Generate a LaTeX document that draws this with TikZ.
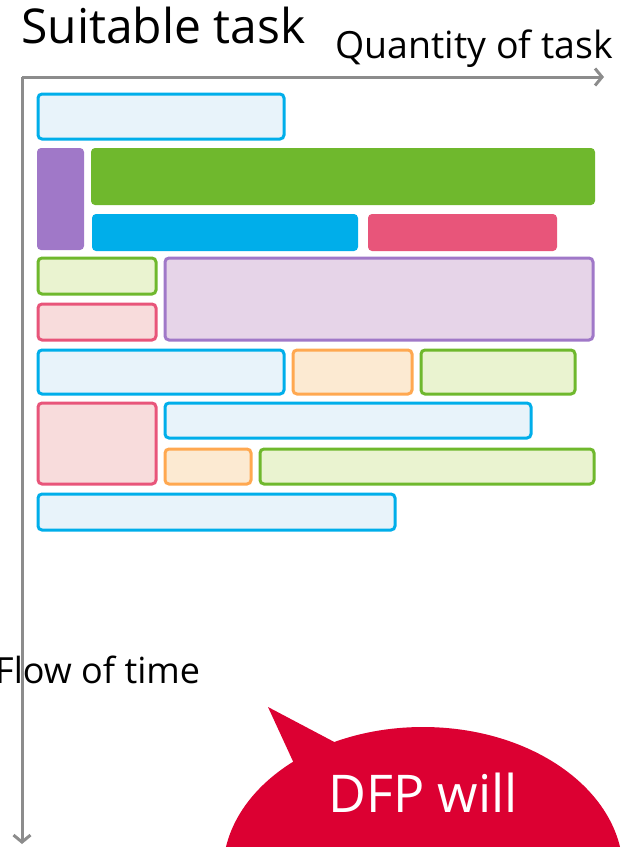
\documentclass[tikz,border=0pt]{standalone}
\usepackage{fontspec}
\setmainfont{Open Sans}
\usetikzlibrary{arrows.meta}
\definecolor{AxisGray}{HTML}{8C8C8C}
\definecolor{Sky}{HTML}{00AEEA}
\definecolor{PaleSky}{HTML}{E8F3FA}
\definecolor{Leaf}{HTML}{6FB82D}
\definecolor{PaleLeaf}{HTML}{EAF3D0}
\definecolor{Rose}{HTML}{E8557A}
\definecolor{PaleRose}{HTML}{F8DCDC}
\definecolor{Lilac}{HTML}{A078C8}
\definecolor{PaleLilac}{HTML}{E6D4E8}
\definecolor{Peach}{HTML}{FFA850}
\definecolor{PalePeach}{HTML}{FCEAD2}
\definecolor{Crimson}{HTML}{DC0032}
\tikzset{
  skybox/.style={draw=Sky,fill=PaleSky,line width=3pt,rounded corners=4pt},
  leafbox/.style={draw=Leaf,fill=PaleLeaf,line width=3pt,rounded corners=4pt},
  rosebox/.style={draw=Rose,fill=PaleRose,line width=3pt,rounded corners=4pt},
  lilacbox/.style={draw=Lilac,fill=PaleLilac,line width=3pt,rounded corners=4pt},
  peachbox/.style={draw=Peach,fill=PalePeach,line width=3pt,rounded corners=4pt},
  solidbox/.style={fill=#1,rounded corners=4pt},
  axis/.style={-{Straight Barb[length=7pt,width=17pt]},line width=3pt,draw=AxisGray},
  label/.style={inner sep=0pt,text=black}
}

\begin{document}
\begin{tikzpicture}[x=1pt,y=-1pt]
  \useasboundingbox (0,0) rectangle (627,847);
  \clip (0,0) rectangle (627,847);
  % axes
  \coordinate (origin) at (22,77);
  \coordinate (qend) at (604,77);
  \coordinate (tend) at (22,844);
  \draw[axis] (origin) -- (qend);
  \draw[axis] (origin) -- (tend);
  \node[label,anchor=base west,font=\fontsize{48}{52}\selectfont] (suitable) at (21,43) {Suitable task};
  \node[label,anchor=base east,font=\fontsize{37.5}{42}\selectfont] (quantity) at (613,58) {Quantity of task};
  \node[label,anchor=base west,font=\fontsize{36}{40}\selectfont] (flow) at (-5,683) {Flow of time};
  % first block
  \draw[skybox] (38,94) rectangle (284,139);
  \fill[solidbox=Lilac] (37,148) rectangle (84,250);
  \fill[solidbox=Leaf] (91,148) rectangle (595,205);
  \fill[solidbox=Sky] (92,214) rectangle (358,251);
  \fill[solidbox=Rose] (368,214) rectangle (557,251);
  % second block
  \draw[leafbox] (38,258) rectangle (156,294);
  \draw[rosebox] (38,304) rectangle (156,340);
  \draw[lilacbox] (165,258) rectangle (593,340);
  \draw[skybox] (38,350) rectangle (284,394);
  \draw[peachbox] (293,350) rectangle (412,394);
  \draw[leafbox] (421,350) rectangle (575,394);
  % third block
  \draw[rosebox] (38,403) rectangle (156,484);
  \draw[skybox] (165,403) rectangle (531,438);
  \draw[peachbox] (165,449) rectangle (251,484);
  \draw[leafbox] (260,449) rectangle (594,484);
  \draw[skybox] (38,494) rectangle (395,530);
  % speech bubble
  \fill[Crimson] (268,707) -- (340,745) -- (297,770) -- cycle;
  \fill[Crimson] (423,872) ellipse [x radius=200,y radius=145];
  \node[label,anchor=base,text=white,font=\fontsize{52}{56}\selectfont] (dfp) at (423,812) {DFP will};
\end{tikzpicture}
\end{document}
